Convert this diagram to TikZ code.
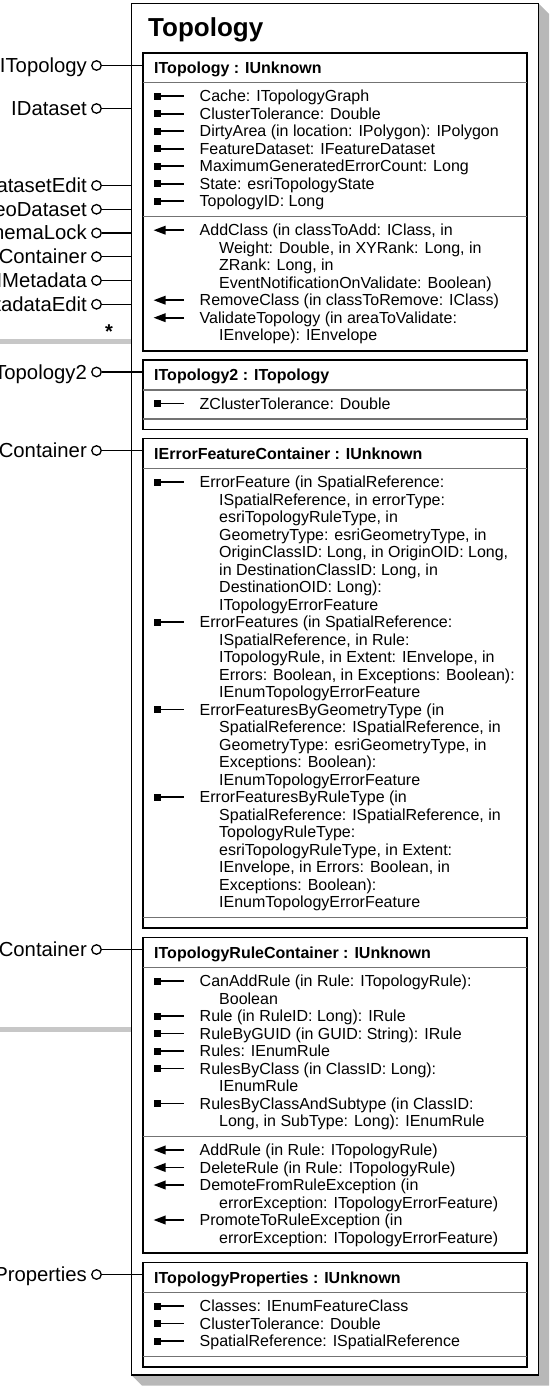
\documentclass[tikz,border=0pt]{standalone}
\usepackage{fontspec}
\setmainfont{Liberation Sans}
\usetikzlibrary{arrows.meta}

\tikzset{
  ibox/.style={draw=black, line width=1.8pt},
  sepline/.style={draw=black!55, line width=1.1pt},
  memberline/.style={line width=1.8pt},
  member/.style={anchor=base west, inner sep=0pt, font=\fontsize{16}{17.5}\selectfont},
  headtxt/.style={anchor=base west, inner sep=0pt, font=\bfseries\fontsize{16}{17.5}\selectfont},
  iflabel/.style={anchor=base east, inner sep=0pt, font=\fontsize{20.3}{22}\selectfont},
  lollipop/.style={draw, circle, line width=1.3pt, minimum size=9.5pt, inner sep=0pt},
  conn/.style={line width=1.3pt},
  greyline/.style={draw=black!22, line width=5pt}
}

% one row per text line: 1 = property, 2 = method, 0 = continuation
\newcommand\memberrows[3]{%
  \foreach \kind/\txt [count=\i] in {#3} {
    \pgfmathsetmacro\yy{#2+(\i-1)*17.5}
    \ifnum\kind=1
      \fill (153.5,\yy-3.5) rectangle (160.5,\yy+3.5);
      \draw[memberline] (160,\yy) -- (183.5,\yy);
    \fi
    \ifnum\kind=2
      \draw[memberline,-{Triangle[length=12pt,width=8.5pt]}] (184,\yy) -- (153.5,\yy);
    \fi
    \ifnum\kind=0
      \node[member] (#1-\i) at (219,\yy+5.5) {\txt};
    \else
      \node[member] (#1-\i) at (199.5,\yy+5.5) {\txt};
    \fi
  }}

\begin{document}
\begin{tikzpicture}[x=1pt,y=-1pt]
    \clip (0,0) rectangle (549,1388);

    % class box with shadow
    \fill[black!28] (538.5,3.3) -- (549,13.8) -- (549,1385.5) -- (142,1385.5) -- (131.5,1375) -- cycle;
    \draw[greyline] (0,341.7) -- (131.5,341.7);
    \draw[greyline] (0,1029.3) -- (131.5,1029.3);
    \filldraw[fill=white, draw=black, line width=1.2pt] (131.5,3.3) rectangle (538.5,1375);
    \coordinate (outerNW) at (131.5,3.3);
    \node[anchor=base west, inner sep=0pt, font=\bfseries\fontsize{26}{28}\selectfont] (title) at (148,36.5) {Topology};

    % interface boxes
    \coordinate (bTopology) at (143,52.7);
    \draw[ibox] (bTopology) rectangle (527,350.7);
    \draw[sepline] (143,82.7) -- (527,82.7);
    \draw[sepline] (143,216.7) -- (527,216.7);
    \node[headtxt] (hTopology) at (154,73.2) {ITopology : IUnknown};

    \coordinate (bTopology2) at (143,360);
    \draw[ibox] (bTopology2) rectangle (527,429.5);
    \draw[sepline] (143,390) -- (527,390);
    \draw[sepline] (143,419) -- (527,419);
    \node[headtxt] (hTopology2) at (154,380.5) {ITopology2 : ITopology};

    \coordinate (bErrCont) at (143,438.5);
    \draw[ibox] (bErrCont) rectangle (527,928);
    \draw[sepline] (143,468.5) -- (527,468.5);
    \draw[sepline] (143,917.5) -- (527,917.5);
    \node[headtxt] (hErrCont) at (154,459) {IErrorFeatureContainer : IUnknown};

    \coordinate (bRuleCont) at (143,937.5);
    \draw[ibox] (bRuleCont) rectangle (527,1253);
    \draw[sepline] (143,967.5) -- (527,967.5);
    \draw[sepline] (143,1136.5) -- (527,1136.5);
    \node[headtxt] (hRuleCont) at (154,958) {ITopologyRuleContainer : IUnknown};

    \coordinate (bProps) at (143,1262.5);
    \draw[ibox] (bProps) rectangle (527,1367);
    \draw[sepline] (143,1292.5) -- (527,1292.5);
    \draw[sepline] (143,1356.5) -- (527,1356.5);
    \node[headtxt] (hProps) at (154,1283) {ITopologyProperties : IUnknown};

    % members
    \memberrows{tp}{96.2}{1/{Cache: ITopologyGraph}, 1/{ClusterTolerance: Double},
      1/{DirtyArea (in location: IPolygon): IPolygon}, 1/{FeatureDataset: IFeatureDataset},
      1/{MaximumGeneratedErrorCount: Long}, 1/{State: esriTopologyState}, 1/{TopologyID: Long}}
    \memberrows{tm}{230.2}{2/{AddClass (in classToAdd: IClass, in},
      0/{Weight: Double, in XYRank: Long, in}, 0/{ZRank: Long, in},
      0/{EventNotificationOnValidate: Boolean)}, 2/{RemoveClass (in classToRemove: IClass)},
      2/{ValidateTopology (in areaToValidate:}, 0/{IEnvelope): IEnvelope}}
    \memberrows{t2p}{403.5}{1/{ZClusterTolerance: Double}}
    \memberrows{ep}{482}{1/{ErrorFeature (in SpatialReference:},
      0/{ISpatialReference, in errorType:}, 0/{esriTopologyRuleType, in},
      0/{GeometryType: esriGeometryType, in}, 0/{OriginClassID: Long, in OriginOID: Long,},
      0/{in DestinationClassID: Long, in}, 0/{DestinationOID: Long):},
      0/{ITopologyErrorFeature},
      1/{ErrorFeatures (in SpatialReference:}, 0/{ISpatialReference, in Rule:},
      0/{ITopologyRule, in Extent: IEnvelope, in}, 0/{Errors: Boolean, in Exceptions: Boolean):},
      0/{IEnumTopologyErrorFeature},
      1/{ErrorFeaturesByGeometryType (in}, 0/{SpatialReference: ISpatialReference, in},
      0/{GeometryType: esriGeometryType, in}, 0/{Exceptions: Boolean):},
      0/{IEnumTopologyErrorFeature},
      1/{ErrorFeaturesByRuleType (in}, 0/{SpatialReference: ISpatialReference, in},
      0/{TopologyRuleType:}, 0/{esriTopologyRuleType, in Extent:},
      0/{IEnvelope, in Errors: Boolean, in}, 0/{Exceptions: Boolean):},
      0/{IEnumTopologyErrorFeature}}
    \memberrows{rp}{981}{1/{CanAddRule (in Rule: ITopologyRule):}, 0/{Boolean},
      1/{Rule (in RuleID: Long): IRule}, 1/{RuleByGUID (in GUID: String): IRule},
      1/{Rules: IEnumRule}, 1/{RulesByClass (in ClassID: Long):}, 0/{IEnumRule},
      1/{RulesByClassAndSubtype (in ClassID:}, 0/{Long, in SubType: Long): IEnumRule}}
    \memberrows{rm}{1150}{2/{AddRule (in Rule: ITopologyRule)}, 2/{DeleteRule (in Rule: ITopologyRule)},
      2/{DemoteFromRuleException (in}, 0/{errorException: ITopologyErrorFeature)},
      2/{PromoteToRuleException (in}, 0/{errorException: ITopologyErrorFeature)}}
    \memberrows{pp}{1306}{1/{Classes: IEnumFeatureClass}, 1/{ClusterTolerance: Double},
      1/{SpatialReference: ISpatialReference}}

    % interfaces on the left
    \foreach \y/\name/\tgt in {65.5/ITopology/bTopology, 108.5/IDataset/outerNW,
        185.5/IDatasetEdit/outerNW, 209.3/IGeoDataset/outerNW, 233/ISchemaLock/outerNW,
        256.7/IFeatureClassContainer/outerNW, 280.5/IMetadata/outerNW,
        304.3/IMetadataEdit/outerNW, 372/ITopology2/bTopology2,
        450.5/IErrorFeatureContainer/bErrCont, 949.5/ITopologyRuleContainer/bRuleCont,
        1274.5/ITopologyProperties/bProps} {
      \node[iflabel] (l-\name) at (87,\y+7) {\name};
      \node[lollipop] (c-\name) at (96.5,\y) {};
      \draw[conn] (c-\name) -- (c-\name -| \tgt);
    }
    \node[anchor=base, inner sep=0pt, font=\bfseries\fontsize{20}{22}\selectfont] (mult) at (109,338) {*};
\end{tikzpicture}
\end{document}
